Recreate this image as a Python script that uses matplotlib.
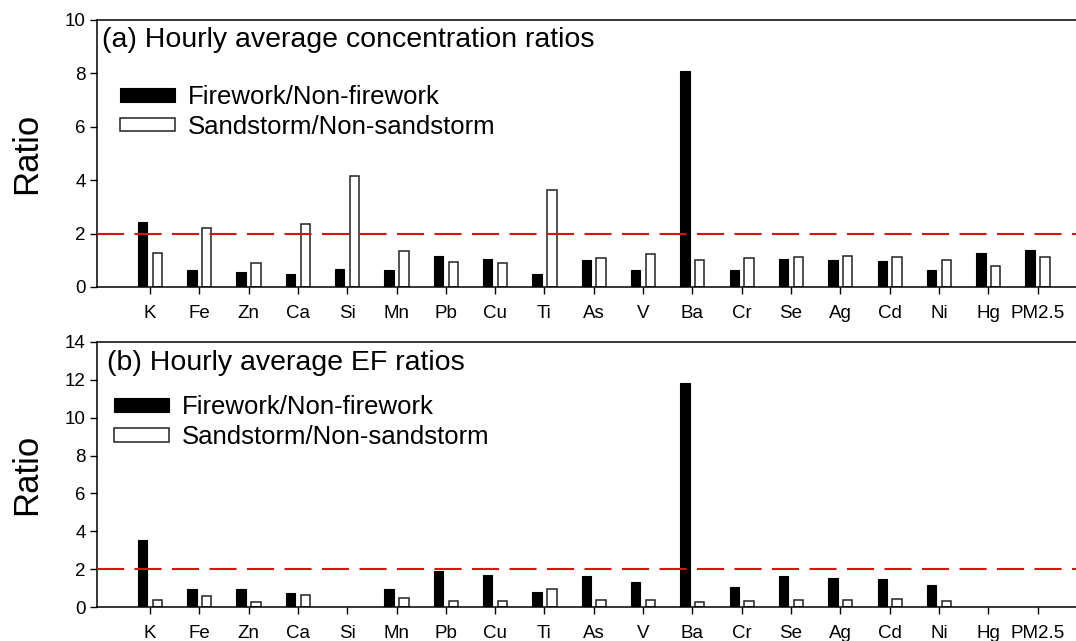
import numpy as np
import matplotlib
matplotlib.use("Agg")
import matplotlib.pyplot as plt

plt.rcParams['font.family'] = ['Liberation Sans', 'DejaVu Sans']

elements = ['K', 'Fe', 'Zn', 'Ca', 'Si', 'Mn', 'Pb', 'Cu', 'Ti', 'As',
            'V', 'Ba', 'Cr', 'Se', 'Ag', 'Cd', 'Ni', 'Hg', 'PM2.5']

# (a) concentration ratios
conc_firework = [2.42, 0.64, 0.57, 0.48, 0.69, 0.64, 1.17, 1.06, 0.48, 1.00,
                 0.64, 8.10, 0.62, 1.05, 1.01, 0.98, 0.65, 1.27, 1.40]
conc_sandstorm = [1.26, 2.21, 0.88, 2.36, 4.14, 1.35, 0.94, 0.89, 3.62, 1.10,
                  1.22, 1.00, 1.07, 1.14, 1.16, 1.11, 1.00, 0.79, 1.14]

# (b) EF ratios (no values for Si, Hg, PM2.5)
ef_firework = [3.54, 0.99, 0.94, 0.77, np.nan, 0.98, 1.90, 1.68, 0.82, 1.66,
               1.35, 11.8, 1.06, 1.66, 1.55, 1.50, 1.18, np.nan, np.nan]
ef_sandstorm = [0.38, 0.61, 0.28, 0.63, np.nan, 0.48, 0.31, 0.34, 0.94, 0.36,
                0.38, 0.28, 0.34, 0.36, 0.40, 0.43, 0.34, np.nan, np.nan]

x = np.arange(len(elements))
w = 0.19
off = 0.15

fig = plt.figure(figsize=(10.76, 6.41), dpi=100)
ax1 = fig.add_axes([0.0901, 0.5523, 0.9099, 0.4165])
ax2 = fig.add_axes([0.0901, 0.0526, 0.9099, 0.4143])


def draw_panel(ax, fw, ss, ymax, title, leg_anchor, title_pos):
    ax.bar(x - off, fw, w, color='black', edgecolor='black', linewidth=0.8,
           label='Firework/Non-firework')
    ax.bar(x + off, ss, w, color='white', edgecolor='#222222', linewidth=1.1,
           label='Sandstorm/Non-sandstorm')
    # reference level at ratio = 2
    ax.axhline(2, color='#e01010', linewidth=1.5, dashes=(13, 5), zorder=3)
    ax.set_xlim(-1.075, 18.78)
    ax.set_ylim(0, ymax)
    ax.set_yticks(np.arange(0, ymax + 1, 2))
    ax.set_xticks(x)
    ax.set_xticklabels(elements)
    ax.tick_params(axis='both', direction='out', length=5, width=1,
                   labelsize=13.5)
    ax.tick_params(axis='x', pad=8)
    ax.tick_params(axis='y', pad=3)
    ax.spines['right'].set_visible(False)
    for s in ['left', 'top', 'bottom']:
        ax.spines[s].set_linewidth(1.1)
    ax.set_ylabel('Ratio', fontsize=25, labelpad=16)
    ax.text(title_pos[0], title_pos[1], title, transform=ax.transAxes,
            fontsize=20.5, ha='left', va='center')
    ax.legend(loc='upper left', bbox_to_anchor=leg_anchor, frameon=False,
              fontsize=18.5, handlelength=2.13, handleheight=0.43,
              handletextpad=0.5, labelspacing=0.22, borderaxespad=0)


draw_panel(ax1, conc_firework, conc_sandstorm, 10,
           '(a) Hourly average concentration ratios',
           (0.0133, 0.794), (0.005, 0.925))
draw_panel(ax2, ef_firework, ef_sandstorm, 14,
           '(b) Hourly average EF ratios',
           (0.007, 0.837), (0.01, 0.92))

fig.savefig('out.png', dpi=100)
